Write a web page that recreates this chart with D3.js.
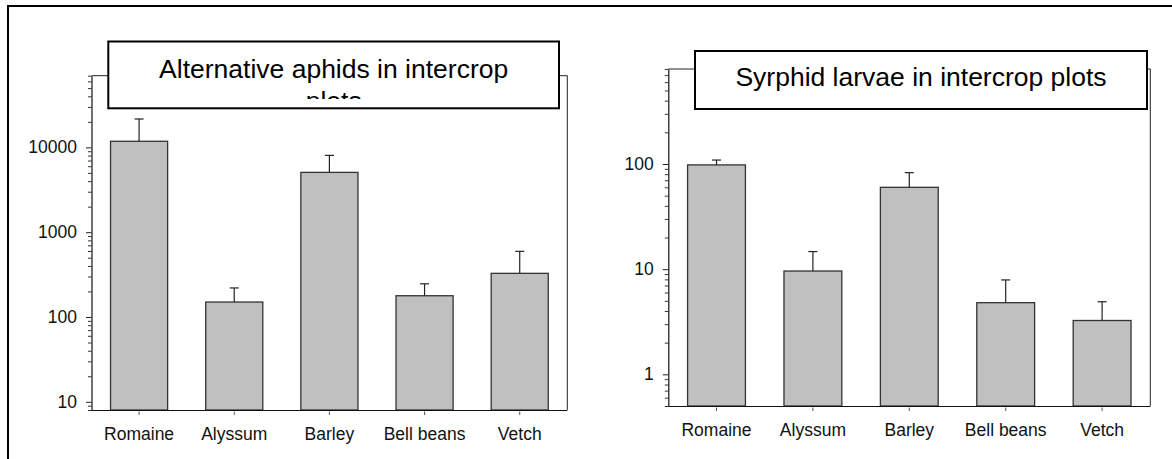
<!DOCTYPE html>
<html>
<head>
<meta charset="utf-8">
<script src="https://cdn.jsdelivr.net/npm/d3@7"></script>
<style>
  html, body { margin: 0; padding: 0; background: #fff; }
  svg { display: block; font-family: "Liberation Sans", Arial, sans-serif; }
</style>
</head>
<body>
<svg id="chart" width="1172" height="459"></svg>
<script>
// ---- data ----
const categories = ["Romaine", "Alyssum", "Barley", "Bell beans", "Vetch"];
const aphidMeans = [11800, 150, 5070, 178, 327];
const aphidUpper = [21600, 220, 8050, 246, 594];
const syrphidMeans = [98, 9.6, 60, 4.8, 3.25];
const syrphidUpper = [109, 14.7, 82.7, 7.9, 4.9];
const aphidTicks = [10, 100, 1000, 10000];
const syrphidTicks = [1, 10, 100];
const aphidDomain = [8, 70000];
const syrphidDomain = [0.5, 800];
const aphidTitle = ["Alternative aphids in intercrop", "plots"];
const syrphidTitle = ["Syrphid larvae in intercrop plots"];

// ---- layout ----
const svg = d3.select("#chart");

// outer frame
svg.append("rect")
  .attr("x", 8).attr("y", 6).attr("width", 1200).attr("height", 500)
  .attr("fill", "none").attr("stroke", "#000").attr("stroke-width", 2);

const panels = [
  {
    means: aphidMeans, upper: aphidUpper, ticks: aphidTicks, domain: aphidDomain,
    title: aphidTitle, x0: 91.5, x1: 567.3, y0: 75.7, y1: 410,
    box: { x0: 108.3, x1: 559, y0: 41.5, y1: 108.3 }, baseline: 77.5, lineGap: 32.5, clipBottom: 99
  },
  {
    means: syrphidMeans, upper: syrphidUpper, ticks: syrphidTicks, domain: syrphidDomain,
    title: syrphidTitle, x0: 668.3, x1: 1150.3, y0: 69, y1: 406,
    box: { x0: 695, x1: 1147, y0: 51, y1: 109 }, baseline: 86, lineGap: 34, clipBottom: 107
  }
];

const labelFont = 17.5;
const titleFont = 26.5;

panels.forEach((p, pi) => {
  const g = svg.append("g");
  const x = d3.scaleBand().domain(categories).range([p.x0, p.x1])
    .paddingInner(0.4).paddingOuter(0.2);
  const y = d3.scaleLog().domain(p.domain).range([p.y1, p.y0]);

  // plot frame top + right
  g.append("path")
    .attr("d", `M${p.x0},${p.y0}H${p.x1}V${p.y1}`)
    .attr("fill", "none").attr("stroke", "#222").attr("stroke-width", 1);

  // bars
  g.selectAll("rect.bar").data(categories).join("rect")
    .attr("class", "bar")
    .attr("x", d => x(d))
    .attr("width", x.bandwidth())
    .attr("y", (d, i) => y(p.means[i]))
    .attr("height", (d, i) => y(p.domain[0]) - y(p.means[i]))
    .attr("fill", "#c0c0c0").attr("stroke", "#333").attr("stroke-width", 1.3);

  // error bars (upper only)
  const cap = 9;
  categories.forEach((c, i) => {
    const cx = x(c) + x.bandwidth() / 2;
    g.append("line")
      .attr("x1", cx).attr("x2", cx)
      .attr("y1", y(p.means[i])).attr("y2", y(p.upper[i]))
      .attr("stroke", "#222").attr("stroke-width", 1.2);
    g.append("line")
      .attr("x1", cx - cap / 2).attr("x2", cx + cap / 2)
      .attr("y1", y(p.upper[i])).attr("y2", y(p.upper[i]))
      .attr("stroke", "#222").attr("stroke-width", 1.2);
  });

  // y minor ticks
  const minor = y.ticks().filter(t => !p.ticks.some(m => Math.abs(m - t) / m < 1e-6));
  const yMinor = g.append("g").attr("transform", `translate(${p.x0},0)`)
    .call(d3.axisLeft(y).tickValues(minor).tickFormat("").tickSize(3.5).tickSizeOuter(0));
  yMinor.select(".domain").remove();
  yMinor.selectAll(".tick line").attr("stroke", "#333");

  // y major axis
  const yAxis = g.append("g").attr("transform", `translate(${p.x0},0)`)
    .call(d3.axisLeft(y).tickValues(p.ticks).tickFormat(d3.format("d"))
      .tickSize(5.5).tickPadding(9).tickSizeOuter(0));
  yAxis.select(".domain").attr("stroke", "#111").attr("stroke-width", 1.2);
  yAxis.selectAll(".tick line").attr("stroke", "#222");
  yAxis.selectAll(".tick text").attr("font-size", labelFont)
    .attr("font-family", "'Liberation Sans', Arial, sans-serif").attr("fill", "#111");

  // x axis
  const xAxis = g.append("g").attr("transform", `translate(0,${p.y1})`)
    .call(d3.axisBottom(x).tickSize(5).tickPadding(13).tickSizeOuter(0));
  xAxis.select(".domain").attr("stroke", "#111").attr("stroke-width", 1.2)
    .attr("d", `M${p.x0},0.5H${p.x1}`);
  xAxis.selectAll(".tick line").attr("stroke", "#555").attr("y1", 1.5);
  xAxis.selectAll(".tick text").attr("font-size", labelFont)
    .attr("font-family", "'Liberation Sans', Arial, sans-serif").attr("fill", "#111");

  // title box
  const b = p.box;
  g.append("rect")
    .attr("x", b.x0).attr("y", b.y0)
    .attr("width", b.x1 - b.x0).attr("height", b.y1 - b.y0)
    .attr("fill", "#fff").attr("stroke", "#000").attr("stroke-width", 2);

  const clipId = "clip" + pi;
  svg.append("clipPath").attr("id", clipId).append("rect")
    .attr("x", b.x0).attr("y", b.y0)
    .attr("width", b.x1 - b.x0).attr("height", p.clipBottom - b.y0);

  const tg = g.append("g").attr("clip-path", `url(#${clipId})`);
  p.title.forEach((line, li) => {
    tg.append("text")
      .attr("x", (b.x0 + b.x1) / 2)
      .attr("y", p.baseline + li * p.lineGap)
      .attr("text-anchor", "middle")
      .attr("font-size", titleFont)
      .attr("fill", "#000")
      .text(line);
  });
});
</script>
</body>
</html>
